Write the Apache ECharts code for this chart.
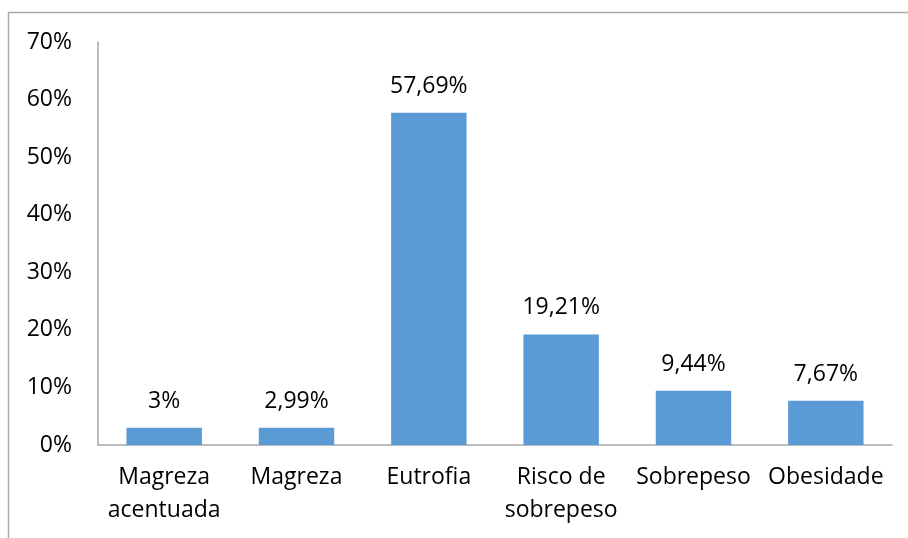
<!DOCTYPE html>
<html>
<head>
<meta charset="utf-8">
<script src="https://cdn.jsdelivr.net/npm/echarts@6/dist/echarts.min.js"></script>
<style>html,body{margin:0;padding:0;background:#fff}#c{width:908px;height:538px}</style>
</head>
<body>
<div id="c"></div>
<script>
var categories = ['Magreza\nacentuada', 'Magreza', 'Eutrofia', 'Risco de\nsobrepeso', 'Sobrepeso', 'Obesidade'];
var values = [3, 2.99, 57.69, 19.21, 9.44, 7.67];
var valueLabels = ['3%', '2,99%', '57,69%', '19,21%', '9,44%', '7,67%'];
var yTicks = [0, 10, 20, 30, 40, 50, 60, 70];

var chart = echarts.init(document.getElementById('c'), null, {renderer: 'canvas'});
var font = 'Open Sans';
chart.setOption({
  animation: false,
  graphic: [{
    type: 'rect', silent: true,
    shape: {x: 8.5, y: 12.5, width: 1000, height: 1000},
    style: {fill: 'none', stroke: '#ABABAB', lineWidth: 1.5}
  }],
  grid: {left: 98, top: 42, right: 16, bottom: 93, containLabel: false},
  xAxis: {
    type: 'category',
    data: categories,
    axisLine: {lineStyle: {color: '#A6A6A6', width: 1.5}},
    axisTick: {show: false},
    axisLabel: {color: '#000', fontFamily: font, fontSize: 23, lineHeight: 33, margin: 16, interval: 0}
  },
  yAxis: {
    type: 'value',
    min: 0, max: 70, interval: 10,
    splitLine: {show: false},
    axisLine: {show: true, lineStyle: {color: '#A6A6A6', width: 1.5}},
    axisTick: {show: false},
    axisLabel: {color: '#000', fontFamily: font, fontSize: 23, margin: 26,
      formatter: function (v) { return yTicks.indexOf(v) >= 0 ? v + '%' : ''; }}
  },
  series: [{
    type: 'bar',
    data: values,
    barWidth: '57%',
    itemStyle: {color: '#5B9BD5'},
    label: {
      show: true, position: 'top', distance: 15,
      color: '#000', fontFamily: font, fontSize: 23,
      formatter: function (p) { return valueLabels[p.dataIndex]; }
    }
  }]
});
</script>
</body>
</html>
